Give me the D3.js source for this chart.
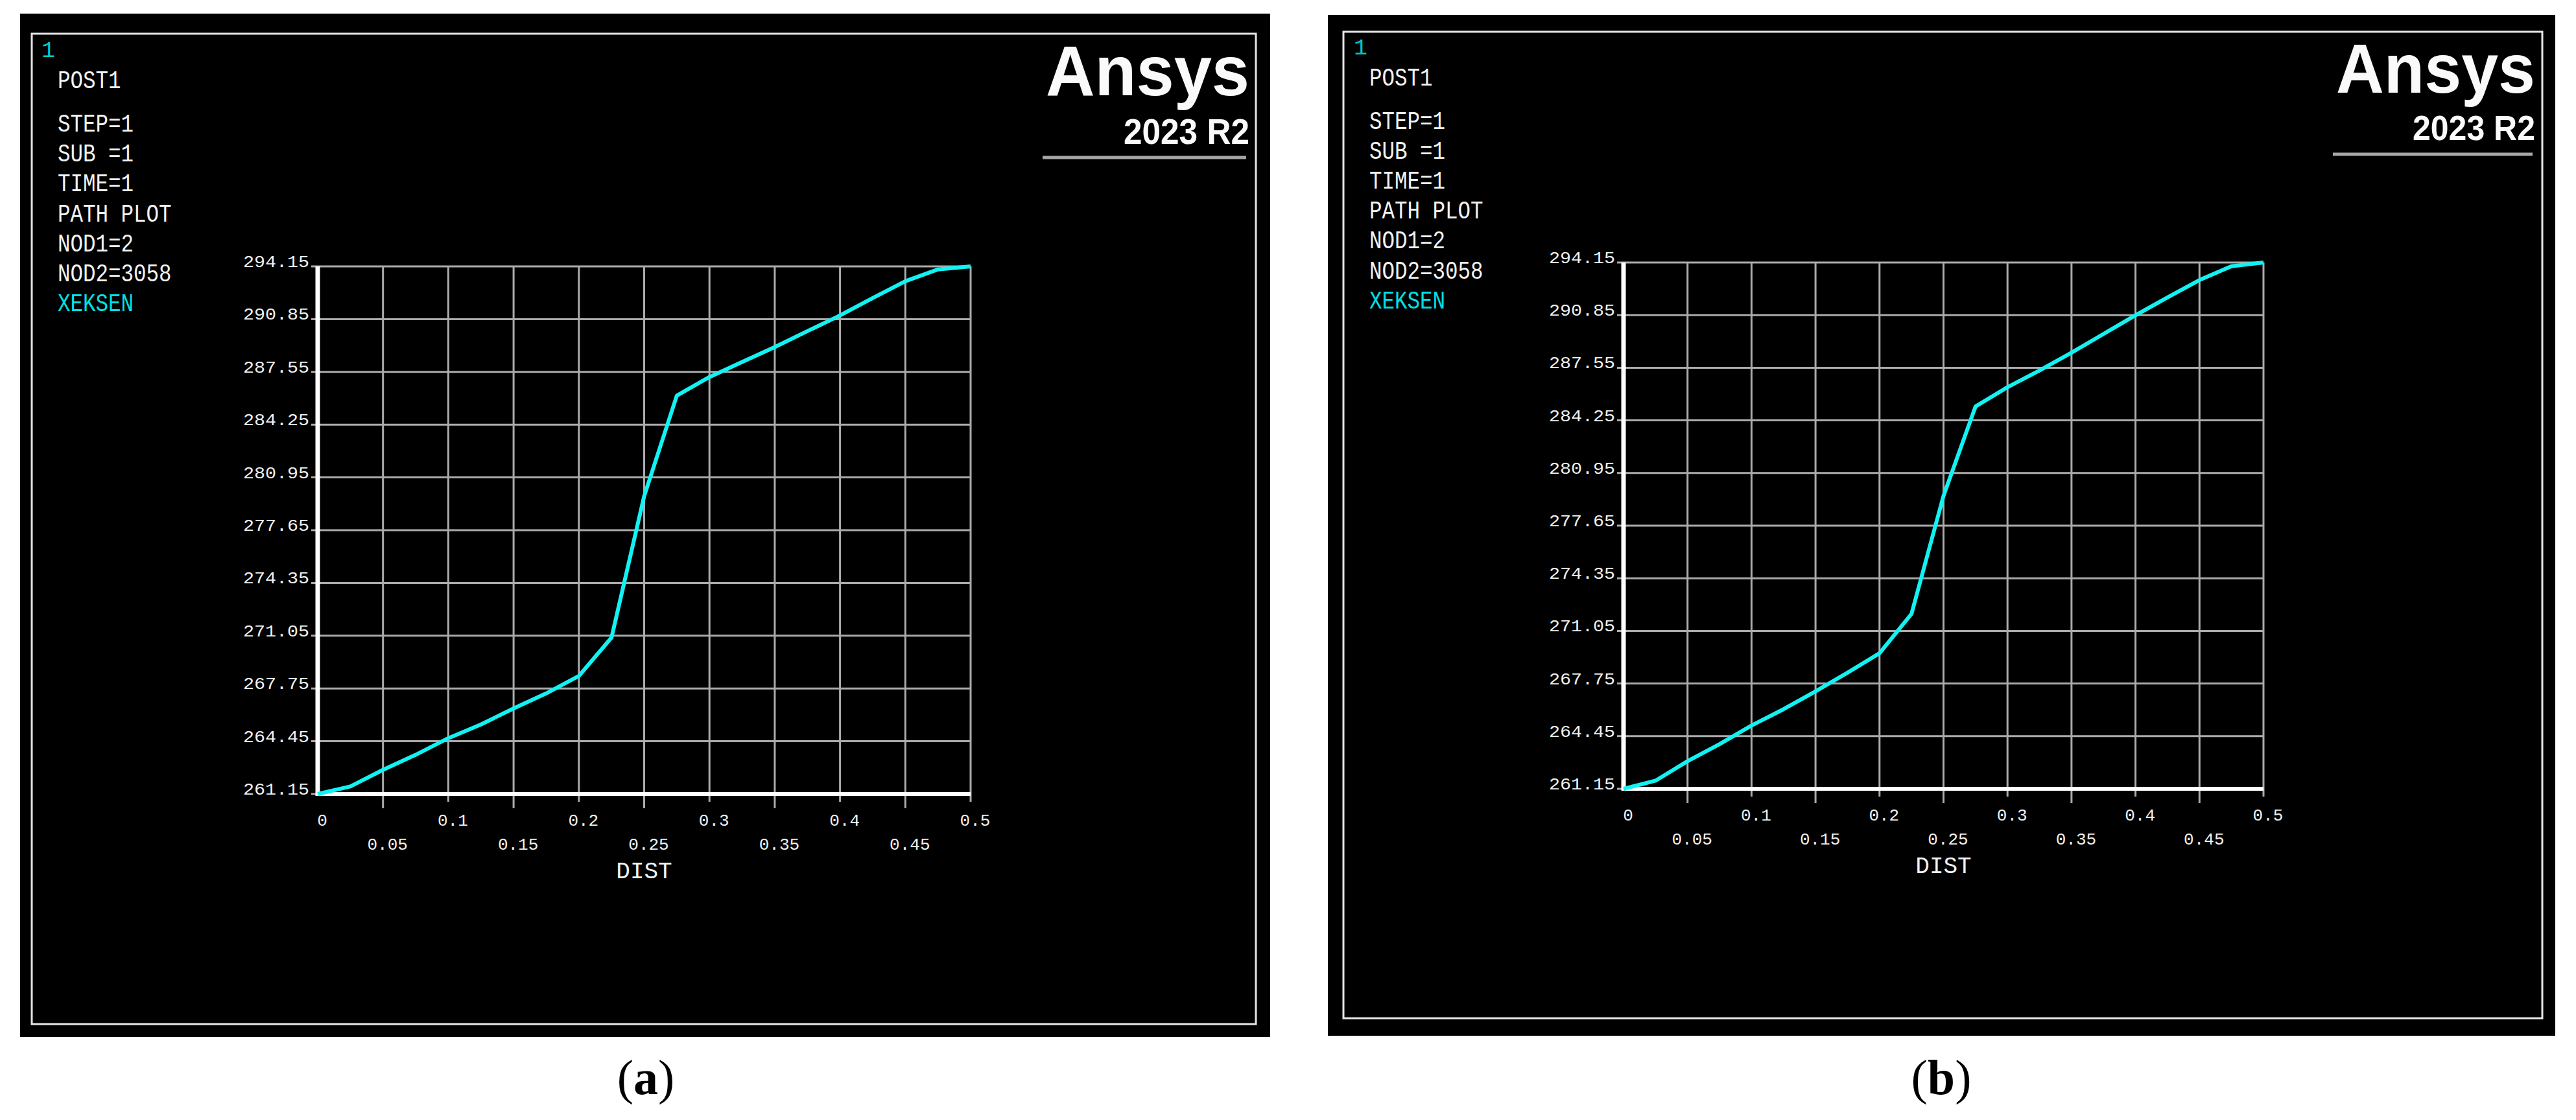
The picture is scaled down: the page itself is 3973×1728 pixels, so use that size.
<!DOCTYPE html>
<html lang="en">
<head>
    <meta charset="UTF-8">
    <title>Ansys path plot</title>
    <script src="https://d3js.org/d3.v7.min.js"></script>
    <style>
        body { margin: 0; background: #fff; }
    </style>
</head>
<body>
    <svg width="3973" height="1728"></svg>
    <script>
        // Path distance (DIST) sampled every 0.025
        const dist = [0, 0.025, 0.05, 0.075, 0.1, 0.125, 0.15, 0.175, 0.2, 0.225, 0.25,
                      0.275, 0.3, 0.325, 0.35, 0.375, 0.4, 0.425, 0.45, 0.475, 0.5];

        // Temperature along the path
        const tempA = [261.15, 261.62, 262.66, 263.60, 264.64, 265.50, 266.50, 267.44, 268.53, 270.93, 279.78,
                       286.07, 287.23, 288.17, 289.10, 290.10, 291.08, 292.17, 293.22, 293.96, 294.15];
        const tempB = [261.15, 261.66, 262.88, 263.95, 265.12, 266.14, 267.26, 268.43, 269.65, 272.12, 279.52,
                       285.12, 286.33, 287.38, 288.50, 289.67, 290.84, 291.96, 293.05, 293.92, 294.15];

        const yTicks = [261.15, 264.45, 267.75, 271.05, 274.35, 277.65, 280.95, 284.25, 287.55, 290.85, 294.15];
        const xTicksTop = [0, 0.1, 0.2, 0.3, 0.4, 0.5];
        const xTicksLow = [0.05, 0.15, 0.25, 0.35, 0.45];
        const infoLines = ["STEP=1", "SUB =1", "TIME=1", "PATH PLOT", "NOD1=2", "NOD2=3058"];
        const panelLetters = ["a", "b"];

        const svg = d3.select("svg");

        // Layout of the two screenshots
        const panels = [
            {
                temps: tempA, letter: panelLetters[0],
                frame: [31, 21, 1959, 1600], border: [49, 52, 1937, 1580],
                plot: {x0: 490, x1: 1497, y0: 411, y1: 1225},
                textX: 89, oneX: 64, top: 0,
                logoRight: 1927, logoA: 147, logoR: 222, logoLine: [1608, 1922, 243], logoW: [314, 194], logoSize: [110, 56],
                captionX: 996
            },
            {
                temps: tempB, letter: panelLetters[1],
                frame: [2048, 23, 3941, 1598], border: [2072, 49, 3921, 1571],
                plot: {x0: 2504, x1: 3491, y0: 405, y1: 1217},
                textX: 2112, oneX: 2088, top: -4.5,
                logoRight: 3910, logoA: 143, logoR: 216, logoLine: [3598, 3906, 238], logoW: [307, 189], logoSize: [108, 54],
                captionX: 2994
            }
        ];

        const mono = "'Liberation Mono', 'DejaVu Sans Mono', monospace";
        const logoFont = "'Liberation Sans', Arial, sans-serif";

        panels.forEach(p => {
            const g = svg.append("g");

            // screen background and border
            g.append("rect")
                .attr("x", p.frame[0]).attr("y", p.frame[1])
                .attr("width", p.frame[2] - p.frame[0]).attr("height", p.frame[3] - p.frame[1])
                .attr("fill", "#000");
            g.append("rect")
                .attr("x", p.border[0]).attr("y", p.border[1])
                .attr("width", p.border[2] - p.border[0]).attr("height", p.border[3] - p.border[1])
                .attr("fill", "none").attr("stroke", "#e6e6e6").attr("stroke-width", 3);

            // window number + info block
            g.append("text")
                .attr("x", p.oneX).attr("y", 88 + p.top)
                .attr("font-family", mono).attr("font-size", 35)
                .attr("fill", "#00c8d0")
                .text("1");

            const info = g.append("g")
                .attr("font-family", mono).attr("font-size", 39)
                .attr("fill", "#f2f2f2");
            info.append("text")
                .attr("x", p.textX).attr("y", 136 + p.top)
                .attr("textLength", 5 * 19.5).attr("lengthAdjust", "spacingAndGlyphs")
                .text("POST1");
            infoLines.forEach((t, i) => {
                info.append("text")
                    .attr("x", p.textX).attr("y", 203 + i * 46.2 + p.top)
                    .attr("textLength", t.length * 19.5).attr("lengthAdjust", "spacingAndGlyphs")
                    .text(t);
            });
            info.append("text")
                .attr("x", p.textX).attr("y", 203 + 6 * 46.2 + p.top)
                .attr("textLength", 6 * 19.5).attr("lengthAdjust", "spacingAndGlyphs")
                .attr("fill", "#00e0e6")
                .text("XEKSEN");

            // Ansys logo
            g.append("text")
                .attr("x", p.logoRight).attr("y", p.logoA)
                .attr("text-anchor", "end")
                .attr("font-family", logoFont)
                .attr("font-weight", 700).attr("font-size", p.logoSize[0])
                .attr("textLength", p.logoW[0]).attr("lengthAdjust", "spacingAndGlyphs")
                .attr("fill", "#fafafa")
                .text("Ansys");
            g.append("text")
                .attr("x", p.logoRight).attr("y", p.logoR)
                .attr("text-anchor", "end")
                .attr("font-family", logoFont)
                .attr("font-weight", 700).attr("font-size", p.logoSize[1])
                .attr("textLength", p.logoW[1]).attr("lengthAdjust", "spacingAndGlyphs")
                .attr("fill", "#fafafa")
                .text("2023 R2");
            g.append("line")
                .attr("x1", p.logoLine[0]).attr("x2", p.logoLine[1])
                .attr("y1", p.logoLine[2]).attr("y2", p.logoLine[2])
                .attr("stroke", "#a6a6a6").attr("stroke-width", 5);

            // scales
            const {x0, x1, y0, y1} = p.plot;
            const x = d3.scaleLinear().domain([0, 0.5]).range([x0, x1]);
            const y = d3.scaleLinear().domain([261.15, 294.15]).range([y1, y0]);

            // horizontal grid + y labels
            g.append("g").selectAll("line")
                .data(yTicks)
                .join("line")
                .attr("x1", x0 - 10).attr("x2", x1)
                .attr("y1", d => y(d)).attr("y2", d => y(d))
                .attr("stroke", "#ababab").attr("stroke-width", 3);

            g.append("g").selectAll("text")
                .data(yTicks)
                .join("text")
                .attr("x", x0 - 13).attr("y", d => y(d) + 1)
                .attr("text-anchor", "end")
                .attr("font-family", mono).attr("font-size", 26)
                .attr("textLength", 102).attr("lengthAdjust", "spacingAndGlyphs")
                .attr("fill", "#f0f0f0")
                .text(d => d.toFixed(2));

            // vertical grid, extending below the axis as ticks
            g.append("g").selectAll("line")
                .data(xTicksTop.concat(xTicksLow).filter(d => d > 0))
                .join("line")
                .attr("x1", d => x(d)).attr("x2", d => x(d))
                .attr("y1", y0).attr("y2", d => y1 + (xTicksLow.includes(d) ? 22 : 12))
                .attr("stroke", "#ababab").attr("stroke-width", 3);

            // x labels in two rows
            g.append("g").selectAll("text")
                .data(xTicksTop)
                .join("text")
                .attr("x", d => x(d) + 7).attr("y", y1 + 49)
                .attr("text-anchor", "middle")
                .attr("font-family", mono).attr("font-size", 26)
                .attr("fill", "#f0f0f0")
                .text(d => d3.format("")(d));
            g.append("g").selectAll("text")
                .data(xTicksLow)
                .join("text")
                .attr("x", d => x(d) + 7).attr("y", y1 + 86)
                .attr("text-anchor", "middle")
                .attr("font-family", mono).attr("font-size", 26)
                .attr("fill", "#f0f0f0")
                .text(d => d3.format("")(d));

            g.append("text")
                .attr("x", (x0 + x1) / 2).attr("y", y1 + 130)
                .attr("text-anchor", "middle")
                .attr("font-family", mono).attr("font-size", 36)
                .attr("fill", "#f2f2f2")
                .text("DIST");

            // axes
            g.append("line")
                .attr("x1", x0).attr("x2", x0).attr("y1", y0).attr("y2", y1 + 3)
                .attr("stroke", "#fff").attr("stroke-width", 7);
            g.append("line")
                .attr("x1", x0).attr("x2", x1).attr("y1", y1).attr("y2", y1)
                .attr("stroke", "#fff").attr("stroke-width", 6);

            // curve
            const line = d3.line()
                .x((d, i) => x(dist[i]))
                .y(d => y(d));
            g.append("path")
                .datum(p.temps)
                .attr("d", line)
                .attr("fill", "none")
                .attr("stroke", "#12f2f2")
                .attr("stroke-width", 6)
                .attr("stroke-linejoin", "round");

            // caption
            const cap = svg.append("text")
                .attr("x", p.captionX).attr("y", 1688)
                .attr("text-anchor", "middle")
                .attr("font-family", "'Liberation Serif', 'DejaVu Serif', serif")
                .attr("font-size", 76)
                .attr("fill", "#000");
            cap.append("tspan").text("(");
            cap.append("tspan").attr("font-weight", 700).text(p.letter);
            cap.append("tspan").text(")");
        });
    </script>
</body>
</html>
